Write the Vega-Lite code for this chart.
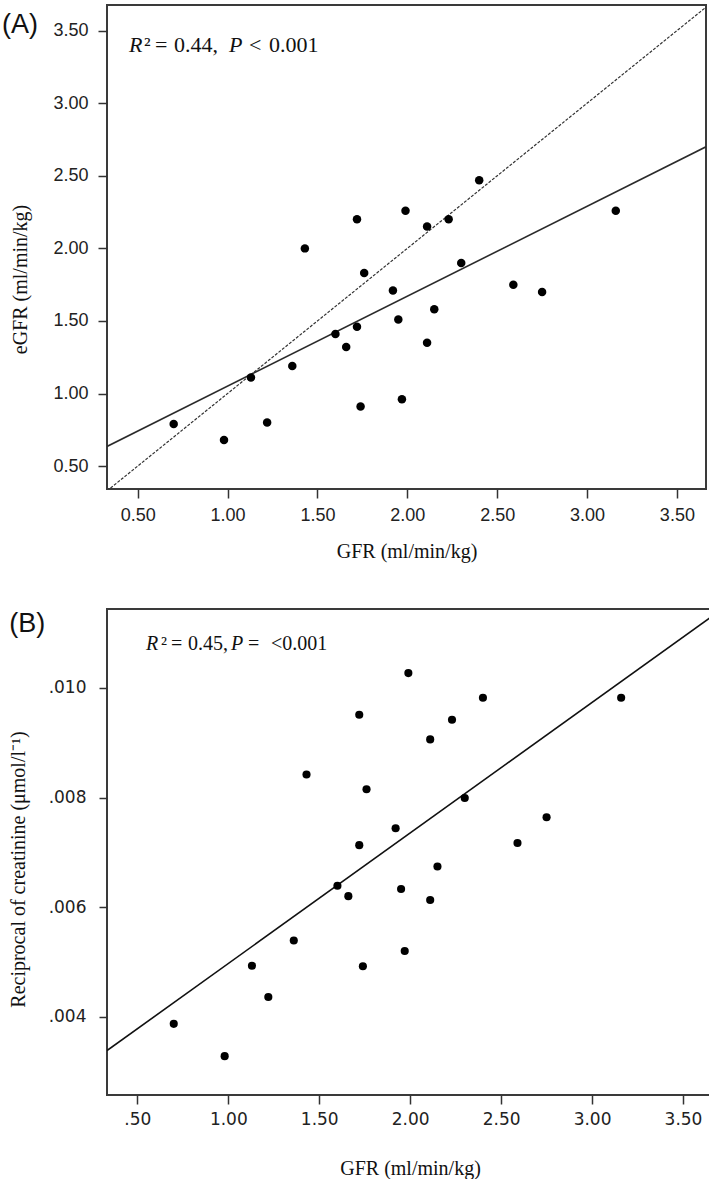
{
  "$schema": "https://vega.github.io/schema/vega-lite/v6.json",
  "padding": {"left": 1, "top": 4, "right": 2, "bottom": 0},
  "background": "white",
  "columns": 1,
  "align": "none",
  "spacing": 46,
  "config": {
    "view": {"stroke": "#3a3a3a", "strokeWidth": 2},
    "axis": {"grid": false, "domain": false, "tickColor": "#333", "tickWidth": 1.5, "tickSize": 9,
             "labelColor": "#222", "titleColor": "#111", "titleFont": "Liberation Serif",
             "titleFontWeight": "normal", "titleFontSize": 20},
    "text": {"align": "left", "baseline": "middle", "font": "Liberation Serif", "color": "#111"}
  },
  "datasets": {
    "pointsA": [
      {"gfr": 0.70, "egfr": 0.79}, {"gfr": 0.98, "egfr": 0.68}, {"gfr": 1.13, "egfr": 1.11}, {"gfr": 1.22, "egfr": 0.80},
      {"gfr": 1.36, "egfr": 1.19}, {"gfr": 1.43, "egfr": 2.00}, {"gfr": 1.60, "egfr": 1.41}, {"gfr": 1.66, "egfr": 1.32},
      {"gfr": 1.72, "egfr": 1.46}, {"gfr": 1.72, "egfr": 2.20}, {"gfr": 1.74, "egfr": 0.91}, {"gfr": 1.76, "egfr": 1.83},
      {"gfr": 1.92, "egfr": 1.71}, {"gfr": 1.95, "egfr": 1.51}, {"gfr": 1.97, "egfr": 0.96}, {"gfr": 1.99, "egfr": 2.26},
      {"gfr": 2.11, "egfr": 1.35}, {"gfr": 2.11, "egfr": 2.15}, {"gfr": 2.15, "egfr": 1.58}, {"gfr": 2.23, "egfr": 2.20},
      {"gfr": 2.30, "egfr": 1.90}, {"gfr": 2.40, "egfr": 2.47}, {"gfr": 2.59, "egfr": 1.75}, {"gfr": 2.75, "egfr": 1.70},
      {"gfr": 3.16, "egfr": 2.26}
    ],
    "fitA": [{"gfr": 0.329, "egfr": 0.635}, {"gfr": 3.662, "egfr": 2.70}],
    "identityA": [{"gfr": 0.329, "egfr": 0.329}, {"gfr": 3.662, "egfr": 3.662}],
    "pointsB": [
      {"gfr": 0.70, "rc": 0.00387}, {"gfr": 0.98, "rc": 0.00328}, {"gfr": 1.13, "rc": 0.00493}, {"gfr": 1.22, "rc": 0.00436},
      {"gfr": 1.36, "rc": 0.00539}, {"gfr": 1.43, "rc": 0.00842}, {"gfr": 1.60, "rc": 0.00639}, {"gfr": 1.66, "rc": 0.00620},
      {"gfr": 1.72, "rc": 0.00713}, {"gfr": 1.72, "rc": 0.00951}, {"gfr": 1.74, "rc": 0.00492}, {"gfr": 1.76, "rc": 0.00815},
      {"gfr": 1.92, "rc": 0.00744}, {"gfr": 1.95, "rc": 0.00633}, {"gfr": 1.97, "rc": 0.00520}, {"gfr": 1.99, "rc": 0.01027},
      {"gfr": 2.11, "rc": 0.00613}, {"gfr": 2.11, "rc": 0.00906}, {"gfr": 2.15, "rc": 0.00674}, {"gfr": 2.23, "rc": 0.00942},
      {"gfr": 2.30, "rc": 0.00799}, {"gfr": 2.40, "rc": 0.00982}, {"gfr": 2.59, "rc": 0.00717}, {"gfr": 2.75, "rc": 0.00764},
      {"gfr": 3.16, "rc": 0.00982}
    ],
    "fitB": [{"gfr": 0.333, "rc": 0.003382}, {"gfr": 3.665, "rc": 0.011319}]
  },
  "concat": [
    {
      "width": 599,
      "height": 484,
      "encoding": {
        "x": {"type": "quantitative",
              "scale": {"domain": [0.329, 3.662], "nice": false, "zero": false},
              "axis": {"values": [0.5, 1, 1.5, 2, 2.5, 3, 3.5], "format": ".2f", "labelFont": "Liberation Sans",
                       "labelFontSize": 18, "labelPadding": 8, "title": "GFR (ml/min/kg)", "titlePadding": 17}},
        "y": {"type": "quantitative",
              "scale": {"domain": [0.342, 3.677], "nice": false, "zero": false},
              "axis": {"values": [0.5, 1, 1.5, 2, 2.5, 3, 3.5], "format": ".2f", "labelFont": "Liberation Sans",
                       "labelFontSize": 18, "labelPadding": 10, "title": "eGFR (ml/min/kg)", "titlePadding": 22, "titleY": 274}}
      },
      "layer": [
        {"data": {"name": "identityA"}, "mark": {"type": "line", "clip": true, "color": "#333", "strokeWidth": 1.2, "strokeDash": [3, 1.5]},
         "encoding": {"x": {"field": "gfr"}, "y": {"field": "egfr"}}},
        {"data": {"name": "fitA"}, "mark": {"type": "line", "clip": true, "color": "#2a2a2a", "strokeWidth": 1.6},
         "encoding": {"x": {"field": "gfr"}, "y": {"field": "egfr"}}},
        {"data": {"name": "pointsA"}, "mark": {"type": "circle", "size": 72, "color": "#000", "opacity": 1},
         "encoding": {"x": {"field": "gfr"}, "y": {"field": "egfr"}}},
        {"data": {"values": [{}]}, "mark": {"type": "text", "font": "Liberation Sans", "fontSize": 27, "text": "(A)", "clip": false},
         "encoding": {"x": {"datum": -0.255}, "y": {"datum": 3.539}}},
        {"data": {"values": [{}]}, "mark": {"type": "text", "fontSize": 22, "fontStyle": "italic", "text": "R"},
         "encoding": {"x": {"datum": 0.4514}, "y": {"datum": 3.40}}},
        {"data": {"values": [{}]}, "mark": {"type": "text", "fontSize": 22, "text": "²"},
         "encoding": {"x": {"datum": 0.5349}, "y": {"datum": 3.40}}},
        {"data": {"values": [{}]}, "mark": {"type": "text", "fontSize": 22, "text": "="},
         "encoding": {"x": {"datum": 0.5961}, "y": {"datum": 3.40}}},
        {"data": {"values": [{}]}, "mark": {"type": "text", "fontSize": 22, "text": "0.44,"},
         "encoding": {"x": {"datum": 0.7018}, "y": {"datum": 3.40}}},
        {"data": {"values": [{}]}, "mark": {"type": "text", "fontSize": 22, "fontStyle": "italic", "text": "P"},
         "encoding": {"x": {"datum": 1.0079}, "y": {"datum": 3.40}}},
        {"data": {"values": [{}]}, "mark": {"type": "text", "fontSize": 22, "text": "<"},
         "encoding": {"x": {"datum": 1.1192}, "y": {"datum": 3.40}}},
        {"data": {"values": [{}]}, "mark": {"type": "text", "fontSize": 22, "text": "0.001"},
         "encoding": {"x": {"datum": 1.2305}, "y": {"datum": 3.40}}}
      ]
    },
    {
      "width": 606,
      "height": 486,
      "encoding": {
        "x": {"type": "quantitative",
              "scale": {"domain": [0.333, 3.665], "nice": false, "zero": false},
              "axis": {"values": [0.5, 1, 1.5, 2, 2.5, 3, 3.5],
                       "labelExpr": "datum.value < 1 ? slice(format(datum.value, '.2f'), 1) : format(datum.value, '.2f')",
                       "labelFont": "DejaVu Sans", "labelFontSize": 17, "labelPadding": 7, "tickSize": 9,
                       "title": "GFR (ml/min/kg)", "titlePadding": 31}},
        "y": {"type": "quantitative",
              "scale": {"domain": [0.002571, 0.01144], "nice": false, "zero": false},
              "axis": {"values": [0.004, 0.006, 0.008, 0.010],
                       "labelExpr": "slice(format(datum.value, '.3f'), 1)",
                       "labelFont": "DejaVu Sans", "labelFontSize": 17, "labelPadding": 13, "tickSize": 8,
                       "title": "Reciprocal of creatinine (μmol/l⁻¹)", "titlePadding": 20, "titleY": 260}}
      },
      "layer": [
        {"data": {"name": "fitB"}, "mark": {"type": "line", "clip": true, "color": "#111", "strokeWidth": 1.6},
         "encoding": {"x": {"field": "gfr"}, "y": {"field": "rc"}}},
        {"data": {"name": "pointsB"}, "mark": {"type": "circle", "size": 66, "color": "#000", "opacity": 1},
         "encoding": {"x": {"field": "gfr"}, "y": {"field": "rc"}}},
        {"data": {"values": [{}]}, "mark": {"type": "text", "font": "Liberation Sans", "fontSize": 27, "text": "(B)", "clip": false},
         "encoding": {"x": {"datum": -0.205}, "y": {"datum": 0.011166}}},
        {"data": {"values": [{}]}, "mark": {"type": "text", "fontSize": 20, "fontStyle": "italic", "text": "R"},
         "encoding": {"x": {"datum": 0.5474}, "y": {"datum": 0.010801}}},
        {"data": {"values": [{}]}, "mark": {"type": "text", "fontSize": 20, "text": "²"},
         "encoding": {"x": {"datum": 0.6299}, "y": {"datum": 0.010801}}},
        {"data": {"values": [{}]}, "mark": {"type": "text", "fontSize": 20, "text": "="},
         "encoding": {"x": {"datum": 0.6848}, "y": {"datum": 0.010801}}},
        {"data": {"values": [{}]}, "mark": {"type": "text", "fontSize": 20, "text": "0.45,"},
         "encoding": {"x": {"datum": 0.7783}, "y": {"datum": 0.010801}}},
        {"data": {"values": [{}]}, "mark": {"type": "text", "fontSize": 20, "fontStyle": "italic", "text": "P"},
         "encoding": {"x": {"datum": 1.0147}, "y": {"datum": 0.010801}}},
        {"data": {"values": [{}]}, "mark": {"type": "text", "fontSize": 20, "text": "="},
         "encoding": {"x": {"datum": 1.1082}, "y": {"datum": 0.010801}}},
        {"data": {"values": [{}]}, "mark": {"type": "text", "fontSize": 20, "text": "<0.001"},
         "encoding": {"x": {"datum": 1.2346}, "y": {"datum": 0.010801}}}
      ]
    }
  ]
}
